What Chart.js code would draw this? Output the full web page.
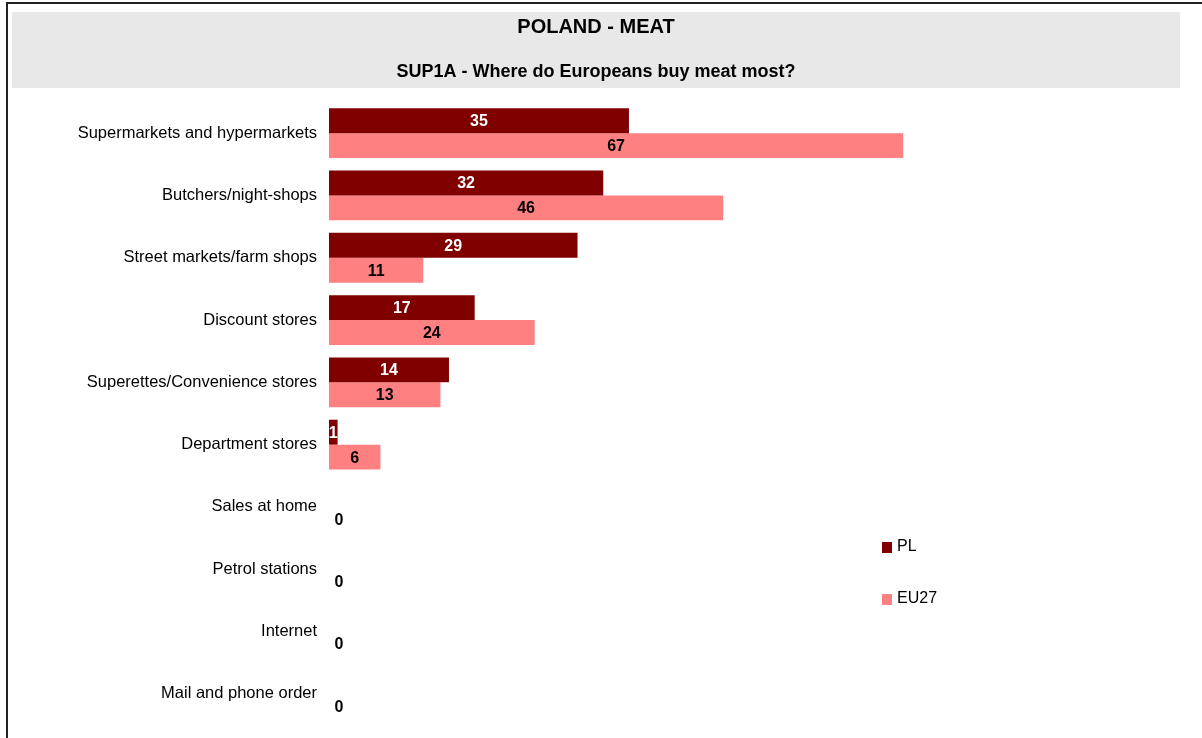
<!DOCTYPE html>
<html>
<head>
<meta charset="utf-8">
<script src="https://cdn.jsdelivr.net/npm/chart.js@4/dist/chart.umd.min.js"></script>
<style>
  html, body { margin: 0; padding: 0; background: #fff; }
  #wrap { position: relative; width: 1202px; height: 738px; }
</style>
</head>
<body>
<div id="wrap"><canvas id="chart"></canvas></div>
<script>
// ------------------------------------------------------------
// DATA
// ------------------------------------------------------------
const titleText    = "POLAND - MEAT";
const subtitleText = "SUP1A - Where do Europeans buy meat most?";

const categories = [
  "Supermarkets and hypermarkets",
  "Butchers/night-shops",
  "Street markets/farm shops",
  "Discount stores",
  "Superettes/Convenience stores",
  "Department stores",
  "Sales at home",
  "Petrol stations",
  "Internet",
  "Mail and phone order"
];

const plValues   = [35, 32, 29, 17, 14, 1, 0, 0, 0, 0];
const eu27Values = [67, 46, 11, 24, 13, 6, 0, 0, 0, 0];

const FONT = "'Liberation Sans', Arial, sans-serif";

// ------------------------------------------------------------
// PLUGINS
// ------------------------------------------------------------
const frame = {
  id: "frame",
  beforeDraw(c) {
    const ctx = c.ctx;
    ctx.save();
    ctx.fillStyle = "#ffffff";
    ctx.fillRect(0, 0, c.width, c.height);
    // outer border (top + left)
    ctx.fillStyle = "#222";
    ctx.fillRect(6, 2, c.width - 6, 2);
    ctx.fillRect(6, 2, 2, c.height);
    // grey title box
    ctx.fillStyle = "#e8e8e8";
    ctx.fillRect(12, 12, 1168, 76);
    ctx.fillStyle = "#000";
    ctx.textAlign = "center";
    ctx.textBaseline = "middle";
    ctx.font = "bold 20px " + FONT;
    ctx.fillText(titleText, 596, 27);
    ctx.font = "bold 18px " + FONT;
    ctx.fillText(subtitleText, 596, 72);
    ctx.restore();
  }
};

const valueLabels = {
  id: "valueLabels",
  afterDatasetsDraw(c) {
    const ctx = c.ctx;
    ctx.save();
    ctx.font = "bold 16px " + FONT;
    ctx.textAlign = "center";
    ctx.textBaseline = "middle";
    c.data.datasets.forEach((ds, i) => {
      c.getDatasetMeta(i).data.forEach((bar, j) => {
        const v = ds.data[j];
        const x = v === 0 ? bar.base + 10 : (bar.x + bar.base) / 2;
        ctx.fillStyle = ds.labelColor;
        ctx.fillText(String(v), x, bar.y + 1);
      });
    });
    ctx.restore();
  }
};

const sideLegend = {
  id: "sideLegend",
  afterDraw(c) {
    const ctx = c.ctx;
    ctx.save();
    ctx.font = "16px " + FONT;
    ctx.textBaseline = "middle";
    ctx.textAlign = "left";
    c.data.datasets.forEach((ds, i) => {
      const y = 547 + i * 52;
      ctx.fillStyle = ds.backgroundColor;
      ctx.fillRect(882, y - 5, 10, 11);
      ctx.fillStyle = "#000";
      ctx.fillText(ds.label, 897, y);
    });
    ctx.restore();
  }
};

// ------------------------------------------------------------
// CHART
// ------------------------------------------------------------
new Chart(document.getElementById("chart"), {
  type: "bar",
  data: {
    labels: categories,
    datasets: [
      { label: "PL",   data: plValues,   backgroundColor: "#800000", labelColor: "#ffffff" },
      { label: "EU27", data: eu27Values, backgroundColor: "#ff8080", labelColor: "#000000" }
    ]
  },
  options: {
    indexAxis: "y",
    responsive: true,
    maintainAspectRatio: false,
    animation: false,
    layout: { padding: { top: 102, bottom: 13, left: 0, right: 16 } },
    datasets: {
      bar: { categoryPercentage: 0.8, barPercentage: 1.0 }
    },
    scales: {
      x: {
        min: 0,
        max: 100,
        display: false
      },
      y: {
        grid: { display: false, drawTicks: false },
        border: { display: false },
        ticks: {
          color: "#000",
          padding: 12,
          font: { family: FONT, size: 16.5 }
        },
        afterFit(scale) {
          scale.width = 329;
          scale.paddingTop = 0;
          scale.paddingBottom = 0;
        }
      }
    },
    plugins: {
      legend: { display: false },
      tooltip: { enabled: false }
    }
  },
  plugins: [frame, valueLabels, sideLegend]
});
</script>
</body>
</html>
